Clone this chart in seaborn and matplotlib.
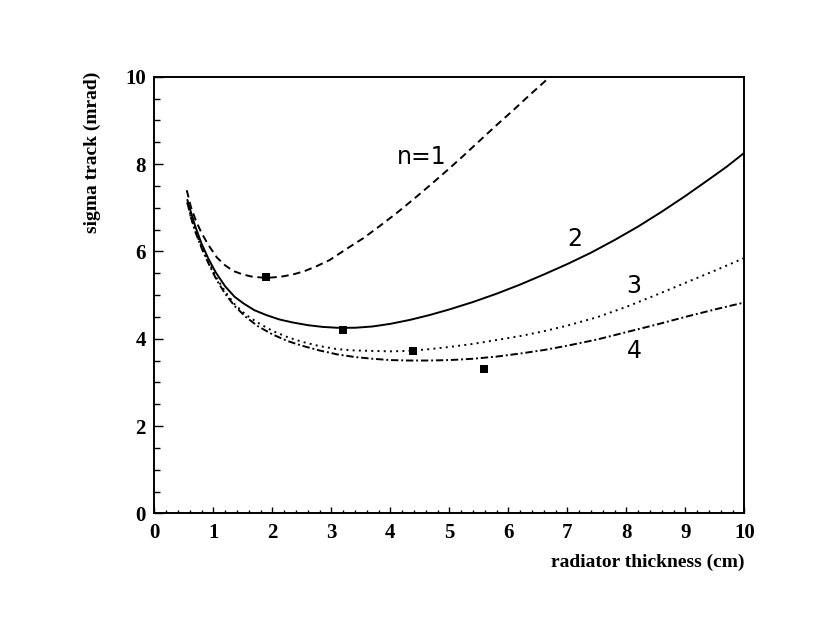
import numpy as np
import pandas as pd
import matplotlib
matplotlib.use("Agg")
import matplotlib.pyplot as plt
from matplotlib.ticker import MultipleLocator
import seaborn as sns

# ---- data ----
n1_x = [0.55, 0.62, 0.70, 0.80, 0.92, 1.06, 1.20, 1.34, 1.50, 1.66, 1.82, 1.98, 2.15, 2.35, 2.55,
        2.75, 2.97, 3.25, 3.54, 3.82, 4.10, 4.38, 4.66, 4.95, 5.23, 5.51, 5.79, 6.08, 6.36, 6.55, 6.72]
n1_y = [7.40, 7.02, 6.72, 6.42, 6.14, 5.86, 5.68, 5.55, 5.47, 5.42, 5.40, 5.40, 5.42, 5.47, 5.55,
        5.66, 5.80, 6.05, 6.30, 6.58, 6.87, 7.18, 7.50, 7.84, 8.18, 8.53, 8.88, 9.23, 9.58, 9.81, 10.02]

n2_x = [0.56, 0.62, 0.70, 0.80, 0.91, 1.04, 1.20, 1.36, 1.52, 1.70, 1.90, 2.12, 2.35, 2.60, 2.85,
        3.10, 3.40, 3.70, 4.00, 4.33, 4.66, 5.00, 5.40, 5.80, 6.20, 6.60, 7.00, 7.40, 7.80, 8.20,
        8.60, 9.00, 9.40, 9.70, 10.0]
n2_y = [7.18, 6.90, 6.55, 6.18, 5.85, 5.52, 5.20, 4.96, 4.80, 4.65, 4.54, 4.44, 4.37, 4.31, 4.27,
        4.25, 4.25, 4.28, 4.34, 4.43, 4.54, 4.67, 4.84, 5.03, 5.24, 5.47, 5.71, 5.97, 6.26, 6.57,
        6.91, 7.27, 7.65, 7.94, 8.26]

n3_x = [0.56, 0.62, 0.70, 0.80, 0.92, 1.05, 1.20, 1.36, 1.55, 1.75, 2.00, 2.25, 2.50, 2.80, 3.10,
        3.40, 3.70, 4.00, 4.30, 4.66, 5.00, 5.40, 5.80, 6.20, 6.60, 7.00, 7.50, 8.00, 8.50, 9.00,
        9.50, 10.0]
n3_y = [7.12, 6.78, 6.45, 6.11, 5.76, 5.40, 5.08, 4.79, 4.55, 4.37, 4.18, 4.04, 3.93, 3.83, 3.76,
        3.73, 3.72, 3.71, 3.72, 3.76, 3.81, 3.88, 3.97, 4.06, 4.17, 4.30, 4.49, 4.73, 5.00, 5.28,
        5.56, 5.85]

n4_x = [0.56, 0.62, 0.70, 0.80, 0.92, 1.05, 1.20, 1.36, 1.55, 1.75, 2.00, 2.25, 2.50, 2.80, 3.10,
        3.40, 3.70, 4.00, 4.30, 4.66, 5.00, 5.40, 5.80, 6.20, 6.60, 7.00, 7.50, 8.00, 8.50, 9.00,
        9.50, 10.0]
n4_y = [7.12, 6.78, 6.43, 6.08, 5.72, 5.36, 5.03, 4.75, 4.50, 4.29, 4.10, 3.95, 3.84, 3.73, 3.64,
        3.58, 3.54, 3.51, 3.50, 3.50, 3.51, 3.54, 3.59, 3.66, 3.74, 3.84, 3.98, 4.15, 4.32, 4.50,
        4.67, 4.83]

opt_x = [1.89, 3.19, 4.39, 5.58]
opt_y = [5.42, 4.20, 3.71, 3.31]

series_names = ["1", "2", "3", "4"]
label_texts = ["n=1", "2", "3", "4"]
label_x = [4.53, 7.13, 8.13, 8.13]
label_y = [8.17, 6.29, 5.20, 3.72]

x_ticks = list(range(0, 11))
y_ticks = [0, 2, 4, 6, 8, 10]

frames = []
for name, xs, ys in zip(series_names, [n1_x, n2_x, n3_x, n4_x], [n1_y, n2_y, n3_y, n4_y]):
    frames.append(pd.DataFrame({"x": xs, "y": ys, "n": name}))
df = pd.concat(frames, ignore_index=True)

sns.set_style("ticks")
plt.rcParams["font.family"] = ["DejaVu Sans"]
plt.rcParams["text.color"] = "black"
plt.rcParams["axes.labelcolor"] = "black"

fig = plt.figure(figsize=(8.22, 6.17), dpi=100)
ax = fig.add_axes([0.1877, 0.168, 0.718, 0.7077])

dashes = {"1": (3.8, 2.4), "2": "", "3": (1.0, 2.2), "4": (3.8, 1.45, 1.0, 1.45)}
sns.lineplot(data=df, x="x", y="y", style="n", dashes=dashes, color="black",
             linewidth=1.4, sort=False, estimator=None, legend=False, ax=ax)

sns.scatterplot(x=opt_x, y=opt_y, marker="s", color="black", s=28,
                linewidth=0, zorder=5, ax=ax)

for t, lx, ly in zip(label_texts, label_x, label_y):
    ax.text(lx, ly, t, fontsize=17, ha="center", va="center",
            family=["DejaVu Sans"], color="black")

ax.set_xlim(0, 10)
ax.set_ylim(0, 10)
ax.set_xticks(x_ticks)
ax.set_yticks(y_ticks)
ax.xaxis.set_minor_locator(MultipleLocator(0.2))
ax.yaxis.set_minor_locator(MultipleLocator(0.5))

tick_font = dict(family=["Liberation Serif", "DejaVu Serif"], weight="bold", size=15, color="black")
label_font = dict(family=["Liberation Serif", "DejaVu Serif"], weight="bold", size=14, color="black")
ax.set_xticklabels([str(v) for v in x_ticks], fontdict=tick_font)
ax.set_yticklabels([str(v) for v in y_ticks], fontdict=tick_font)

ax.tick_params(axis="both", which="both", direction="in", top=False, right=False,
               width=1.0, colors="black")
ax.tick_params(axis="x", which="major", length=4.3, pad=7)
ax.tick_params(axis="x", which="minor", length=2.2)
ax.tick_params(axis="y", which="major", length=6.5, pad=6)
ax.tick_params(axis="y", which="minor", length=4.0)

for sp in ax.spines.values():
    sp.set_visible(True)
    sp.set_linewidth(1.4)
    sp.set_color("black")

ax.set_xlabel("radiator thickness (cm)", fontdict=label_font, ha="right")
ax.xaxis.set_label_coords(1.0, -0.093)
ax.set_ylabel("sigma track (mrad)", fontdict=label_font)
ax.yaxis.set_label_coords(-0.09, 0.826)

fig.savefig("out.png", dpi=100, facecolor="white")
